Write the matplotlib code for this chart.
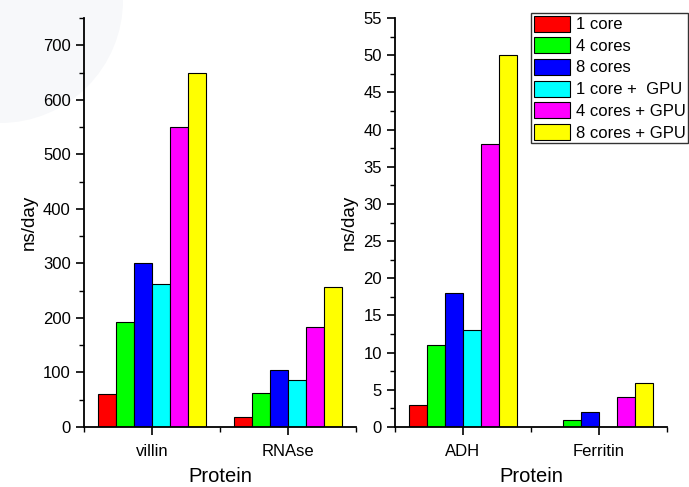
import matplotlib
matplotlib.use("Agg")
import matplotlib.pyplot as plt
import numpy as np
from matplotlib.ticker import MultipleLocator, FixedLocator
from matplotlib.patches import Circle

plt.rcParams['font.family'] = ['Liberation Sans', 'DejaVu Sans']

series = ["1 core", "4 cores", "8 cores", "1 core +  GPU", "4 cores + GPU", "8 cores + GPU"]
colors = ["#ff0000", "#00ff00", "#0000ff", "#00ffff", "#ff00ff", "#ffff00"]

left_cats = ["villin", "RNAse"]
left_vals = [
    [60, 19],
    [192, 63],
    [300, 104],
    [263, 86],
    [550, 184],
    [650, 256],
]
right_cats = ["ADH", "Ferritin"]
right_vals = [
    [3, 0],
    [11, 1],
    [18, 2],
    [13, 0],
    [38, 4],
    [50, 5.9],
]

W, H = 689, 487
fig = plt.figure(figsize=(W / 100, H / 100), dpi=100)
# faint background circle at the top-left corner
fig.patches.append(Circle((0, H), 123, transform=None,
                          facecolor="#f7f8fa", edgecolor="none", zorder=-10))

axL = fig.add_axes([84/W, 1-427/H, 272/W, 409/H])
axR = fig.add_axes([395/W, 1-427/H, 272/W, 409/H])

def draw(ax, cats, vals, ymax, major, minor):
    ax.patch.set_alpha(0)
    x = np.arange(1, len(cats) + 1)
    w = 0.8 / len(vals)
    for i, (v, c, lab) in enumerate(zip(vals, colors, series)):
        ax.bar(x - 0.4 + w * (i + 0.5), v, width=w, color=c, edgecolor="black",
               linewidth=0.8, label=lab)
    ax.set_xlim(0.5, len(cats) + 0.5)
    ax.set_ylim(0, ymax)
    ax.set_xticks(x)
    ax.set_xticklabels(cats)
    ax.xaxis.set_minor_locator(FixedLocator(np.arange(0.5, len(cats) + 1, 1.0)))
    ax.yaxis.set_major_locator(MultipleLocator(major))
    ax.yaxis.set_minor_locator(MultipleLocator(minor))
    for s in ("top", "right"):
        ax.spines[s].set_visible(False)
    for s in ("left", "bottom"):
        ax.spines[s].set_linewidth(1.3)
    ax.tick_params(which="major", direction="out", length=6, width=1.2, labelsize=12)
    ax.tick_params(which="minor", direction="out", length=3.5, width=1.0)
    ax.tick_params(axis="x", pad=6)
    ax.set_ylabel("ns/day", fontsize=13.5, labelpad=4)
    ax.set_xlabel("Protein", fontsize=14.5, labelpad=6)

draw(axL, left_cats, left_vals, 750, 100, 50)
draw(axR, right_cats, right_vals, 55, 5, 2.5)

leg = axR.legend(loc="upper left", bbox_to_anchor=(531/W, 1-13/H), bbox_transform=fig.transFigure,
                 fontsize=12, frameon=True, fancybox=False, edgecolor="black",
                 handlelength=2.2, handleheight=1.1, handletextpad=0.35,
                 labelspacing=0.3, borderpad=0.15, borderaxespad=0)
leg.get_frame().set_linewidth(1.0)

fig.savefig("out.png", dpi=100)
